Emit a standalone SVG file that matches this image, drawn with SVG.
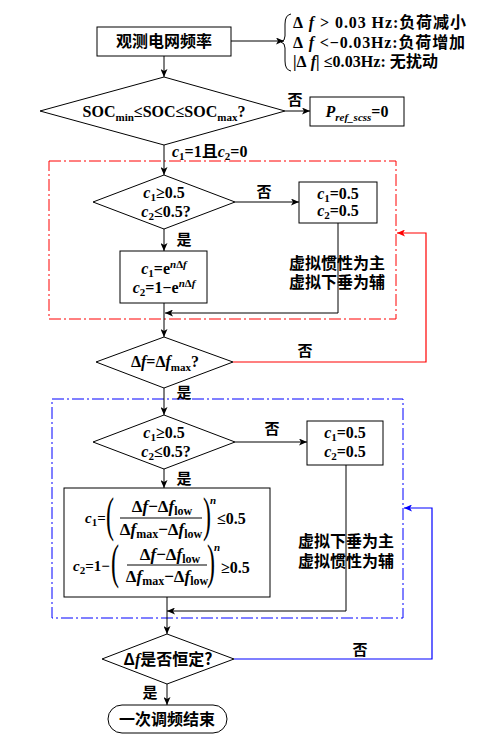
<svg xmlns="http://www.w3.org/2000/svg" width="488" height="734" viewBox="0 0 488 734">
<style>
.t{font-family:"Liberation Serif","Noto Sans CJK SC",serif;font-weight:bold;font-size:16px;fill:#000}
.f{font-size:15px}
.fr{font-size:17px}
.fs{font-size:12px}
.cn{font-family:"Noto Sans CJK SC","Liberation Serif",sans-serif;font-weight:bold;font-size:16px;fill:#000}
.l{font-family:"Noto Sans CJK SC",sans-serif;font-weight:bold;font-size:15px;fill:#000}
.i{font-style:italic}
.s{font-size:11px}
.m{text-anchor:middle}
.n{fill:#fff;stroke:#000;stroke-width:1}
.c{fill:none;stroke:#000;stroke-width:1}
.cr{fill:none;stroke:#f00;stroke-width:1.2}
.cb{fill:none;stroke:#00f;stroke-width:1.2}
.dr{fill:none;stroke:#f00;stroke-width:1;stroke-dasharray:12 3 2 3}
.db{fill:none;stroke:#00f;stroke-width:1;stroke-dasharray:12 3 2 3}
.p{font-family:"Liberation Serif",serif;font-weight:normal;font-size:48px}
</style>
<defs>
<marker id="a" markerWidth="8" markerHeight="7" refX="8" refY="3.5" orient="auto" markerUnits="userSpaceOnUse"><path d="M0,0 L8,3.5 L0,7 L2,3.5 Z" fill="#000"/></marker>
<marker id="ar" markerWidth="8" markerHeight="7" refX="8" refY="3.5" orient="auto" markerUnits="userSpaceOnUse"><path d="M0,0 L8,3.5 L0,7 L2,3.5 Z" fill="#f00"/></marker>
<marker id="ab" markerWidth="8" markerHeight="7" refX="8" refY="3.5" orient="auto" markerUnits="userSpaceOnUse"><path d="M0,0 L8,3.5 L0,7 L2,3.5 Z" fill="#00f"/></marker>
</defs>
<rect width="488" height="734" fill="#fff"/>

<g id="region_red"><rect class="dr" x="49" y="161" width="347" height="158"/></g>
<g id="region_blue"><rect class="db" x="52" y="399" width="351" height="219"/></g>

<g id="connectors">
<path class="c" d="M164,56 V77" marker-end="url(#a)"/>
<path class="c" d="M231,41 H284" marker-end="url(#a)"/>
<path class="c" d="M285,111 H310" marker-end="url(#a)"/>
<path class="c" d="M164,145 V175" marker-end="url(#a)"/>
<path class="c" d="M235,202 H299" marker-end="url(#a)"/>
<path class="c" d="M164,229 V251" marker-end="url(#a)"/>
<path class="c" d="M338,223 V313 H165" marker-end="url(#a)"/>
<path class="c" d="M164,303 V337" marker-end="url(#a)"/>
<path class="cr" d="M233,362 H426 V233 H397" marker-end="url(#ar)"/>
<path class="c" d="M164,388 V415" marker-end="url(#a)"/>
<path class="c" d="M235,442 H307" marker-end="url(#a)"/>
<path class="c" d="M164,469 V488" marker-end="url(#a)"/>
<path class="c" d="M346,465 V611 H167" marker-end="url(#a)"/>
<path class="c" d="M167,597 V634" marker-end="url(#a)"/>
<path class="cb" d="M234,659 H432 V508 H404" marker-end="url(#ab)"/>
<path class="c" d="M167,684 V705" marker-end="url(#a)"/>
<text class="l m" x="264" y="197">否</text>
<text class="l m" x="184" y="245">是</text>
<text class="l m" x="295" y="105">否</text>
<text class="l m" x="305" y="356">否</text>
<text class="l m" x="184" y="398">是</text>
<text class="l m" x="272" y="434">否</text>
<text class="l m" x="184" y="484">是</text>
<text class="l m" x="360" y="655">否</text>
<text class="l m" x="150" y="698">是</text>
<text class="t" x="172" y="157"><tspan class="i">c</tspan><tspan class="s" dy="3">1</tspan><tspan dy="-3">=1且</tspan><tspan class="i">c</tspan><tspan class="s" dy="3">2</tspan><tspan dy="-3">=0</tspan></text>
</g>

<g id="observe">
<rect class="n" x="97" y="27" width="134" height="29"/>
<text class="cn m" x="164" y="47">观测电网频率</text>
</g>

<g id="note">
<path class="c" d="M291,14 Q285,15 285,24 V36 Q285,41 281,42 Q285,43 285,48 V61 Q285,70 291,71"/>
<text class="t" x="293" y="28" textLength="173"><tspan>Δ</tspan><tspan class="i"> f </tspan>&gt; 0.03 Hz:负荷减小</text>
<text class="t" x="293" y="48" textLength="172"><tspan>Δ</tspan><tspan class="i"> f </tspan>&lt;−0.03Hz:负荷增加</text>
<text class="t" x="293" y="67" textLength="145">|Δ<tspan class="i"> f</tspan>| ≤0.03Hz: 无扰动</text>
</g>

<g id="soc_check">
<polygon class="n" points="164,77 285,111 164,145 40,111"/>
<text class="t m" x="164" y="117">SOC<tspan class="s" dy="4">min</tspan><tspan dy="-4">≤SOC≤SOC</tspan><tspan class="s" dy="4">max</tspan><tspan dy="-4">?</tspan></text>
</g>

<g id="pref">
<rect class="n" x="310" y="97" width="94" height="29"/>
<text class="t m" x="357" y="117"><tspan class="i">P</tspan><tspan class="s i" dy="4">ref_scss</tspan><tspan dy="-4">=0</tspan></text>
</g>

<g id="check1">
<polygon class="n" points="164,175 235,202 164,229 93,202"/>
<text class="t m" x="164" y="198"><tspan class="i">c</tspan><tspan class="s" dy="3">1</tspan><tspan dy="-3">≥0.5</tspan></text>
<text class="t m" x="166" y="217"><tspan class="i">c</tspan><tspan class="s" dy="3">2</tspan><tspan dy="-3">≤0.5?</tspan></text>
</g>

<g id="set1">
<rect class="n" x="299" y="182" width="78" height="41"/>
<text class="t m" x="338" y="199"><tspan class="i">c</tspan><tspan class="s" dy="3">1</tspan><tspan dy="-3">=0.5</tspan></text>
<text class="t m" x="338" y="216"><tspan class="i">c</tspan><tspan class="s" dy="3">2</tspan><tspan dy="-3">=0.5</tspan></text>
</g>

<g id="exp">
<rect class="n" x="120" y="251" width="87" height="52"/>
<text class="t m" x="164" y="274"><tspan class="i">c</tspan><tspan class="s" dy="3">1</tspan><tspan dy="-3">=e</tspan><tspan class="s" dy="-6"><tspan class="i">n</tspan>Δ<tspan class="i">f</tspan></tspan></text>
<text class="t m" x="164" y="293"><tspan class="i">c</tspan><tspan class="s" dy="3">2</tspan><tspan dy="-3">=1−e</tspan><tspan class="s" dy="-6"><tspan class="i">n</tspan>Δ<tspan class="i">f</tspan></tspan></text>
</g>

<g id="label1">
<text class="cn" x="289" y="269">虚拟惯性为主</text>
<text class="cn" x="289" y="288">虚拟下垂为辅</text>
</g>

<g id="check_max">
<polygon class="n" points="164,337 233,362 164,388 96,362"/>
<text class="t m" x="165" y="367">Δ<tspan class="i">f</tspan>=Δ<tspan class="i">f</tspan><tspan class="s" dy="4">max</tspan><tspan dy="-4">?</tspan></text>
</g>

<g id="check2">
<polygon class="n" points="164,415 235,442 164,469 93,442"/>
<text class="t m" x="164" y="438"><tspan class="i">c</tspan><tspan class="s" dy="3">1</tspan><tspan dy="-3">≥0.5</tspan></text>
<text class="t m" x="166" y="457"><tspan class="i">c</tspan><tspan class="s" dy="3">2</tspan><tspan dy="-3">≤0.5?</tspan></text>
</g>

<g id="set2">
<rect class="n" x="307" y="421" width="76" height="44"/>
<text class="t m" x="345" y="438"><tspan class="i">c</tspan><tspan class="s" dy="3">1</tspan><tspan dy="-3">=0.5</tspan></text>
<text class="t m" x="345" y="457"><tspan class="i">c</tspan><tspan class="s" dy="3">2</tspan><tspan dy="-3">=0.5</tspan></text>
</g>

<g id="formula">
<rect class="n" x="64" y="488" width="206" height="109"/>
<text class="t f" x="85" y="523"><tspan class="i">c</tspan><tspan class="s" dy="3">1</tspan><tspan dy="-3">=</tspan></text>
<text class="p" transform="translate(106,531) scale(0.5,1)">(</text>
<text class="t fr m" x="162" y="512">Δ<tspan class="i">f</tspan>−Δ<tspan class="i">f</tspan><tspan class="fs" dy="3">low</tspan></text>
<line class="c" x1="120" y1="518" x2="202" y2="518"/>
<text class="t fr m" x="161" y="535">Δ<tspan class="i">f</tspan><tspan class="fs" dy="3">max</tspan><tspan dy="-3">−Δ</tspan><tspan class="i">f</tspan><tspan class="fs" dy="3">low</tspan></text>
<text class="p" transform="translate(203,531) scale(0.5,1)">)</text>
<text class="t i s" x="210" y="504">n</text>
<text class="t" x="217" y="524">≤0.5</text>

<text class="t f" x="73" y="571"><tspan class="i">c</tspan><tspan class="s" dy="3">2</tspan><tspan dy="-3">=1−</tspan></text>
<text class="p" transform="translate(111,578) scale(0.5,1)">(</text>
<text class="t fr m" x="170" y="560">Δ<tspan class="i">f</tspan>−Δ<tspan class="i">f</tspan><tspan class="fs" dy="3">low</tspan></text>
<line class="c" x1="127" y1="565" x2="207" y2="565"/>
<text class="t fr m" x="167" y="582">Δ<tspan class="i">f</tspan><tspan class="fs" dy="3">max</tspan><tspan dy="-3">−Δ</tspan><tspan class="i">f</tspan><tspan class="fs" dy="3">low</tspan></text>
<text class="p" transform="translate(207,578) scale(0.5,1)">)</text>
<text class="t i s" x="214" y="551">n</text>
<text class="t" x="221" y="573">≥0.5</text>
</g>

<g id="label2">
<text class="cn" x="298" y="547">虚拟下垂为主</text>
<text class="cn" x="298" y="567">虚拟惯性为辅</text>
</g>

<g id="check_const">
<polygon class="n" points="167,634 234,659 167,684 102,659"/>
<text class="cn m" x="168" y="665">Δ<tspan class="i" font-family="Liberation Serif">f</tspan>是否恒定?</text>
</g>

<g id="end">
<rect class="n" x="108" y="705" width="119" height="28" rx="14"/>
<text class="cn m" x="167" y="725">一次调频结束</text>
</g>
</svg>
